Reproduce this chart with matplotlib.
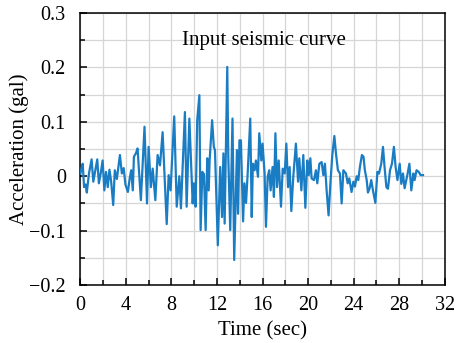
"""Input seismic acceleration record (recreated from a figure)."""

import matplotlib.pyplot as plt
from matplotlib.ticker import FixedLocator, MultipleLocator

plt.rcParams["font.family"] = ["Liberation Serif", "DejaVu Serif"]

# time (s) of each turning point of the record
time_s = [
    0.00, 0.10, 0.20, 0.32, 0.45, 0.56, 0.75, 0.98, 1.13, 1.30,
    1.48, 1.62, 1.78, 1.95, 2.10, 2.25, 2.40, 2.55, 2.70, 2.88,
    3.02, 3.20, 3.47, 3.64, 3.80, 3.95, 4.17, 4.32, 4.46, 4.60,
    4.70, 4.87, 5.02, 5.31, 5.63, 5.85, 5.99, 6.19, 6.35, 6.58,
    6.78, 6.99, 7.22, 7.58, 7.75, 7.92, 8.24, 8.46, 8.69, 8.83,
    9.18, 9.33, 9.57, 9.86, 9.97, 10.12, 10.26, 10.45, 10.56, 10.71,
    10.85, 11.00, 11.14, 11.27, 11.35, 11.57, 11.72, 11.82, 12.07, 12.28,
    12.44, 12.56, 12.67, 12.90, 12.99, 13.16, 13.36, 13.51, 13.75, 13.85,
    13.97, 14.10, 14.29, 14.41, 14.55, 14.69, 14.92, 15.05, 15.15, 15.30,
    15.42, 15.60, 15.71, 15.89, 16.00, 16.18, 16.30, 16.45, 16.59, 16.71,
    16.88, 17.00, 17.13, 17.27, 17.42, 17.62, 17.77, 17.95, 18.09, 18.24,
    18.38, 18.53, 18.70, 18.93, 19.12, 19.23, 19.41, 19.58, 19.76, 19.93,
    20.06, 20.20, 20.31, 20.52, 20.69, 20.81, 20.99, 21.19, 21.34, 21.48,
    21.63, 21.80, 21.98, 22.13, 22.31, 22.45, 22.62, 22.80, 22.95, 23.10,
    23.33, 23.48, 23.62, 23.82, 23.98, 24.12, 24.27, 24.41, 24.56, 24.73,
    24.87, 24.99, 25.15, 25.26, 25.41, 25.55, 25.70, 25.91, 26.09, 26.23,
    26.43, 26.58, 26.72, 26.88, 27.02, 27.20, 27.37, 27.54, 27.69, 27.85,
    28.05, 28.19, 28.34, 28.48, 28.72, 28.90, 29.07, 29.25, 29.36, 29.53,
    29.72, 29.89, 30.10,
]

# acceleration (gal) at those times
accel_gal = [
    0.005, 0.015, 0.023, -0.020, -0.015, -0.030, 0.005, 0.031, -0.010, 0.010,
    0.031, -0.013, 0.005, 0.029, -0.026, 0.008, -0.020, 0.012, -0.010, -0.053,
    0.011, -0.005, 0.039, 0.005, 0.015, -0.015, -0.029, -0.005, 0.011, -0.026,
    0.036, 0.042, 0.051, -0.044, 0.091, -0.050, 0.054, -0.020, 0.014, -0.044,
    0.039, 0.020, 0.081, -0.088, 0.002, -0.026, 0.110, -0.056, 0.000, -0.059,
    0.118, -0.056, 0.106, -0.050, -0.013, -0.056, 0.103, 0.149, -0.099, 0.008,
    0.004, -0.099, 0.033, -0.026, 0.029, 0.103, 0.054, 0.048, -0.127, 0.017,
    -0.075, 0.042, -0.087, 0.201, 0.036, -0.099, 0.106, -0.154, 0.048, -0.069,
    0.066, 0.066, -0.083, -0.013, -0.049, 0.004, 0.106, -0.075, 0.023, 0.011,
    0.029, -0.001, 0.079, 0.029, 0.060, 0.005, -0.093, -0.001, 0.011, -0.026,
    0.017, -0.038, 0.079, -0.020, 0.029, -0.056, 0.014, 0.005, 0.060, -0.020,
    0.017, -0.064, -0.001, 0.060, -0.010, 0.033, -0.026, 0.039, -0.058, 0.029,
    0.002, 0.033, -0.004, -0.007, 0.011, -0.013, 0.023, 0.026, 0.002, 0.023,
    -0.026, -0.072, -0.007, 0.039, 0.074, 0.042, 0.011, 0.005, -0.050, 0.011,
    0.005, -0.013, -0.004, -0.029, -0.010, -0.019, 0.000, -0.007, 0.018, 0.039,
    0.036, 0.011, -0.007, -0.030, -0.022, -0.007, -0.026, -0.049, 0.008, 0.005,
    0.023, 0.054, 0.017, -0.020, -0.023, 0.011, 0.023, 0.054, 0.017, -0.007,
    0.023, -0.014, 0.005, -0.022, 0.002, 0.023, -0.026, 0.005, -0.007, 0.011,
    0.008, 0.002, 0.002,
]

x_ticks = [0, 4, 8, 12, 16, 20, 24, 28, 32]
y_ticks = [-0.2, -0.1, 0, 0.1, 0.2, 0.3]
y_labels = ["\u22120.2", "\u22120.1", "0", "0.1", "0.2", "0.3"]


def main():
    fig = plt.figure(figsize=(4.57, 3.43), dpi=100)
    ax = fig.add_axes([0.176, 0.169, 0.797, 0.793])

    ax.plot(time_s, accel_gal, color="#1a7dc4", lw=1.6, zorder=3)

    ax.set_xlim(0, 32)
    ax.set_ylim(-0.2, 0.3)
    ax.xaxis.set_major_locator(FixedLocator(x_ticks))
    ax.xaxis.set_minor_locator(MultipleLocator(2))
    ax.yaxis.set_major_locator(FixedLocator(y_ticks))
    ax.set_yticklabels(y_labels)
    ax.yaxis.set_minor_locator(MultipleLocator(0.05))

    ax.grid(which="both", color="#d6d6d6", lw=0.9, zorder=0)
    ax.set_axisbelow(True)
    ax.tick_params(which="both", direction="in", labelsize=14.5,
                   top=False, right=False, width=1.1)
    ax.tick_params(axis="x", which="both", pad=8)
    ax.tick_params(axis="y", which="both", pad=10.5)
    ax.tick_params(which="major", length=5)
    ax.tick_params(which="minor", length=3.5)
    for sp in ax.spines.values():
        sp.set_linewidth(1.1)

    ax.set_xlabel("Time (sec)", fontsize=15, labelpad=4.5)
    ax.set_ylabel("Acceleration (gal)", fontsize=15, labelpad=0)
    ax.text(16.1, 0.25, "Input seismic curve", fontsize=15,
            ha="center", va="center")

    fig.savefig("out.png", dpi=100)


if __name__ == "__main__":
    main()
